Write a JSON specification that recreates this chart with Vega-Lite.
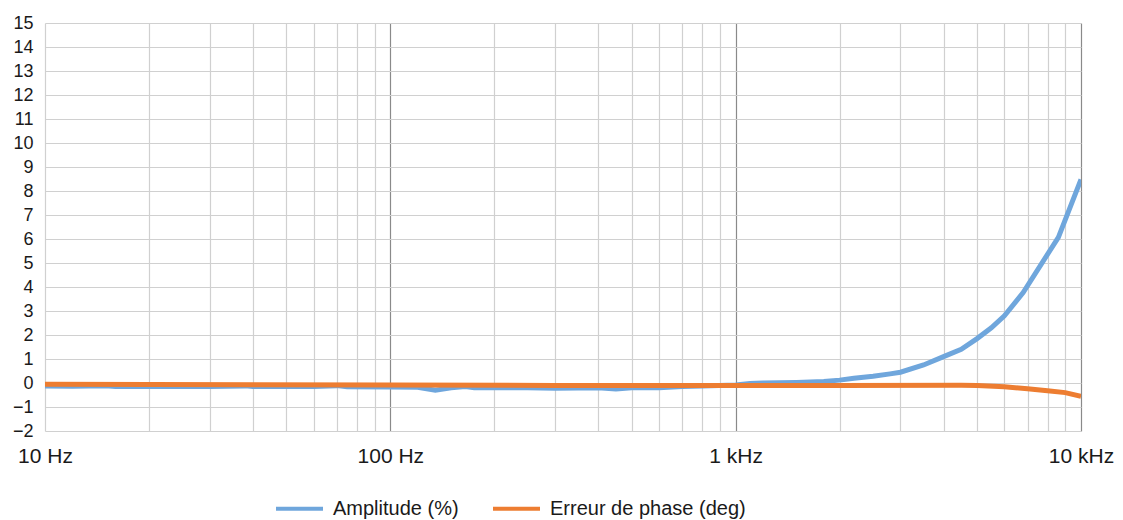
{
  "$schema": "https://vega.github.io/schema/vega-lite/v6.json",
  "autosize": "none",
  "width": 1036,
  "height": 408,
  "padding": {"left": 45, "top": 23, "right": 42, "bottom": 89},
  "background": "white",
  "config": {
    "view": {"stroke": null},
    "font": "Liberation Sans"
  },
  "data": {
    "values": [
      {"f": 10, "v": -0.13, "s": "Amplitude (%)"},
      {"f": 12, "v": -0.14, "s": "Amplitude (%)"},
      {"f": 15, "v": -0.11, "s": "Amplitude (%)"},
      {"f": 16, "v": -0.15, "s": "Amplitude (%)"},
      {"f": 20, "v": -0.15, "s": "Amplitude (%)"},
      {"f": 25, "v": -0.15, "s": "Amplitude (%)"},
      {"f": 30, "v": -0.15, "s": "Amplitude (%)"},
      {"f": 38, "v": -0.12, "s": "Amplitude (%)"},
      {"f": 40, "v": -0.15, "s": "Amplitude (%)"},
      {"f": 50, "v": -0.15, "s": "Amplitude (%)"},
      {"f": 60, "v": -0.15, "s": "Amplitude (%)"},
      {"f": 70, "v": -0.11, "s": "Amplitude (%)"},
      {"f": 75, "v": -0.16, "s": "Amplitude (%)"},
      {"f": 100, "v": -0.17, "s": "Amplitude (%)"},
      {"f": 120, "v": -0.18, "s": "Amplitude (%)"},
      {"f": 135, "v": -0.3, "s": "Amplitude (%)"},
      {"f": 150, "v": -0.2, "s": "Amplitude (%)"},
      {"f": 165, "v": -0.15, "s": "Amplitude (%)"},
      {"f": 175, "v": -0.2, "s": "Amplitude (%)"},
      {"f": 250, "v": -0.2, "s": "Amplitude (%)"},
      {"f": 300, "v": -0.22, "s": "Amplitude (%)"},
      {"f": 350, "v": -0.21, "s": "Amplitude (%)"},
      {"f": 400, "v": -0.2, "s": "Amplitude (%)"},
      {"f": 450, "v": -0.25, "s": "Amplitude (%)"},
      {"f": 500, "v": -0.2, "s": "Amplitude (%)"},
      {"f": 600, "v": -0.2, "s": "Amplitude (%)"},
      {"f": 700, "v": -0.15, "s": "Amplitude (%)"},
      {"f": 800, "v": -0.12, "s": "Amplitude (%)"},
      {"f": 1000, "v": -0.08, "s": "Amplitude (%)"},
      {"f": 1100, "v": -0.02, "s": "Amplitude (%)"},
      {"f": 1200, "v": 0.0, "s": "Amplitude (%)"},
      {"f": 1500, "v": 0.02, "s": "Amplitude (%)"},
      {"f": 1800, "v": 0.06, "s": "Amplitude (%)"},
      {"f": 2000, "v": 0.12, "s": "Amplitude (%)"},
      {"f": 2200, "v": 0.2, "s": "Amplitude (%)"},
      {"f": 2500, "v": 0.28, "s": "Amplitude (%)"},
      {"f": 2800, "v": 0.38, "s": "Amplitude (%)"},
      {"f": 3000, "v": 0.45, "s": "Amplitude (%)"},
      {"f": 3500, "v": 0.75, "s": "Amplitude (%)"},
      {"f": 4000, "v": 1.1, "s": "Amplitude (%)"},
      {"f": 4500, "v": 1.4, "s": "Amplitude (%)"},
      {"f": 5000, "v": 1.85, "s": "Amplitude (%)"},
      {"f": 5500, "v": 2.3, "s": "Amplitude (%)"},
      {"f": 6000, "v": 2.8, "s": "Amplitude (%)"},
      {"f": 6800, "v": 3.77, "s": "Amplitude (%)"},
      {"f": 8600, "v": 6.07, "s": "Amplitude (%)"},
      {"f": 10000, "v": 8.48, "s": "Amplitude (%)"},
      {"f": 10, "v": -0.05, "s": "Erreur de phase (deg)"},
      {"f": 100, "v": -0.08, "s": "Erreur de phase (deg)"},
      {"f": 300, "v": -0.1, "s": "Erreur de phase (deg)"},
      {"f": 1000, "v": -0.1, "s": "Erreur de phase (deg)"},
      {"f": 2000, "v": -0.1, "s": "Erreur de phase (deg)"},
      {"f": 4500, "v": -0.09, "s": "Erreur de phase (deg)"},
      {"f": 5000, "v": -0.1, "s": "Erreur de phase (deg)"},
      {"f": 6000, "v": -0.16, "s": "Erreur de phase (deg)"},
      {"f": 7000, "v": -0.24, "s": "Erreur de phase (deg)"},
      {"f": 8000, "v": -0.32, "s": "Erreur de phase (deg)"},
      {"f": 9000, "v": -0.4, "s": "Erreur de phase (deg)"},
      {"f": 10000, "v": -0.56, "s": "Erreur de phase (deg)"}
    ]
  },
  "encoding": {
    "x": {
      "field": "f",
      "type": "quantitative",
      "scale": {"type": "log", "domain": [10, 10000], "nice": false},
      "axis": {
        "title": null,
        "values": [10, 20, 30, 40, 50, 60, 70, 80, 90, 100, 200, 300, 400, 500, 600, 700, 800, 900, 1000, 2000, 3000, 4000, 5000, 6000, 7000, 8000, 9000, 10000],
        "labelExpr": "datum.value == 10 ? '10 Hz' : datum.value == 100 ? '100 Hz' : datum.value == 1000 ? '1 kHz' : datum.value == 10000 ? '10 kHz' : ''",
        "grid": true,
        "gridColor": {"condition": {"test": "datum.value == 100 || datum.value == 1000 || datum.value == 10000", "value": "#8a8a8a"}, "value": "#d0d0d0"},
        "gridWidth": 1.2,
        "ticks": false,
        "domain": false,
        "labelFontSize": 21,
        "labelColor": "#1a1a1a",
        "labelPadding": 14,
        "labelOverlap": false,
        "labelBound": false,
        "labelFlush": false
      }
    },
    "y": {
      "field": "v",
      "type": "quantitative",
      "scale": {"domain": [-2, 15], "nice": false, "zero": false},
      "axis": {
        "title": null,
        "values": [-2, -1, 0, 1, 2, 3, 4, 5, 6, 7, 8, 9, 10, 11, 12, 13, 14, 15],
        "grid": true,
        "gridColor": "#d0d0d0",
        "gridWidth": 1.2,
        "ticks": false,
        "domain": false,
        "labelFontSize": 18,
        "labelColor": "#1a1a1a",
        "labelPadding": 12,
        "labelOverlap": false,
        "labelBound": false
      }
    },
    "color": {
      "field": "s",
      "type": "nominal",
      "scale": {"domain": ["Amplitude (%)", "Erreur de phase (deg)"], "range": ["#6fa6dc", "#ED7D31"]},
      "legend": {
        "title": null,
        "orient": "none",
        "direction": "horizontal",
        "legendX": 229,
        "legendY": 460,
        "symbolType": "stroke",
        "symbolSize": 2209,
        "symbolStrokeWidth": 4,
        "labelFontSize": 20,
        "labelColor": "#1a1a1a",
        "labelOffset": 8,
        "columnPadding": 26,
        "labelLimit": 400
      }
    }
  },
  "layer": [
    {
      "transform": [{"filter": "datum.s == 'Amplitude (%)'"}],
      "mark": {"type": "line", "strokeWidth": 5, "clip": true}
    },
    {
      "transform": [{"filter": "datum.s == 'Erreur de phase (deg)'"}],
      "mark": {"type": "line", "strokeWidth": 5, "clip": true}
    }
  ]
}
